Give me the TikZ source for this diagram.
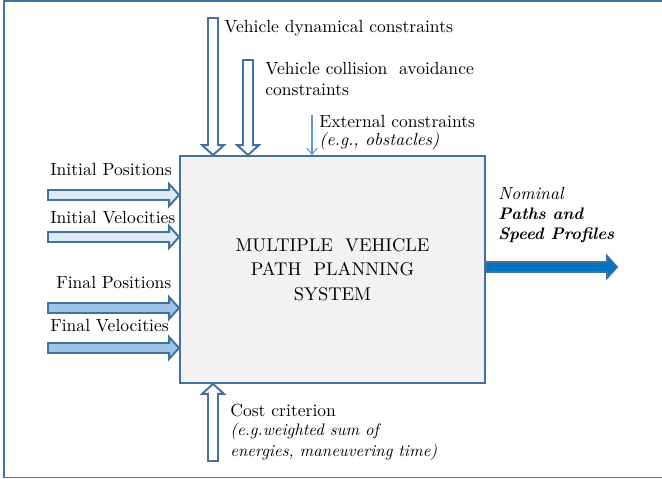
\documentclass[tikz,border=0pt]{standalone}
\usetikzlibrary{calc,arrows.meta}

\definecolor{frameblue}{HTML}{41719C}
\definecolor{paleblue}{HTML}{DEEBF7}
\definecolor{midblue}{HTML}{9DC3E6}
\definecolor{outblue}{HTML}{0075C4}
\definecolor{extblue}{HTML}{5B9BD5}
\definecolor{boxgray}{HTML}{F2F2F2}

\tikzset{
  % block arrow along a straight to-path: shaft 0.1cm, head 0.22cm wide, 0.2cm long
  blockarrow/.style={draw=frameblue, line width=1.1pt, line join=miter,
    to path={($(\tikztostart)!0.1cm!90:(\tikztotarget)$)
      -- ($(\tikztotarget)!0.2cm!(\tikztostart)!0.1cm!90:(\tikztotarget)$)
      -- ($(\tikztotarget)!0.2cm!(\tikztostart)!0.22cm!90:(\tikztotarget)$)
      -- (\tikztotarget)
      -- ($(\tikztotarget)!0.2cm!(\tikztostart)!0.22cm!-90:(\tikztotarget)$)
      -- ($(\tikztotarget)!0.2cm!(\tikztostart)!0.1cm!-90:(\tikztotarget)$)
      -- ($(\tikztostart)!0.1cm!-90:(\tikztotarget)$) -- cycle}},
  lbl/.style={anchor=base west, inner sep=0pt},
  sysbox/.style={draw=frameblue, fill=boxgray, line width=1.1pt,
    minimum width=6.1cm, minimum height=4.54cm, align=center,
    font=\fontsize{10.5}{13.9}\selectfont}
}

\begin{document}
\begin{tikzpicture}[x=0.02cm, y=-0.02cm]
	\useasboundingbox (0,0) rectangle (662,479);
	\fill [white] (0,0) rectangle (662,479);
	% outer frame, open on the right
	\draw [frameblue, line width=1.1pt] (662,1.2) -- (4,1.2) -- (4,477.5) -- (662,477.5);

	\node [sysbox] (sys) at (332.5,269.5) {MULTIPLE\ \ VEHICLE\\PATH\ \ PLANNING\\SYSTEM};

	% loose ends of the arrows
	\coordinate (dynS) at (213,18);
	\coordinate (colS) at (248,60);
	\coordinate (extS) at (312,115);
	\coordinate (costS) at (213,461);
	\coordinate (ipS) at (48,195);
	\coordinate (ivS) at (48,237);
	\coordinate (fpS) at (48,308);
	\coordinate (fvS) at (48,348);
	\coordinate (outE) at (617,267);

	\draw [blockarrow, fill=white] (dynS) to (sys.north -| dynS);
	\draw [blockarrow, fill=white] (colS) to (sys.north -| colS);
	\draw [extblue, line width=0.6pt, -{Straight Barb[length=3.5pt,width=6pt]}] (extS) -- (sys.north -| extS);
	\draw [blockarrow, fill=white] (costS) to (sys.south -| costS);
	\draw [blockarrow, fill=paleblue] (ipS) to (sys.west |- ipS);
	\draw [blockarrow, fill=paleblue] (ivS) to (sys.west |- ivS);
	\draw [blockarrow, fill=midblue] (fpS) to (sys.west |- fpS);
	\draw [blockarrow, fill=midblue] (fvS) to (sys.west |- fvS);
	\draw [blockarrow, fill=outblue] (sys.east |- outE) to (outE);

	% labels
	\node [lbl] (dynL) at (224,33) {Vehicle dynamical constraints};
	\node [lbl] (colL) at (265,75) {Vehicle collision\ \ avoidance};
	\node [lbl] (colLb) at (265,96) {constraints};
	\node [lbl] (extL) at (319,128) {External constraints};
	\node [lbl] (extLb) at (319,146) {\itshape (e.g., obstacles)};
	\node [lbl] (ipL) at (50,176) {Initial Positions};
	\node [lbl] (ivL) at (50,224) {Initial Velocities};
	\node [lbl] (fpL) at (56,289) {Final Positions};
	\node [lbl] (fvL) at (50,331) {Final Velocities};
	\node [lbl] (costL) at (230,416) {Cost criterion};
	\node [lbl, font=\fontsize{9.5}{11}\selectfont] (costLb) at (230,435) {\itshape (e.g.weighted sum of};
	\node [lbl, font=\fontsize{9.5}{11}\selectfont] (costLc) at (230,456) {\itshape energies, maneuvering time)};
	\node [lbl] (outL) at (498,200) {\itshape Nominal};
	\node [lbl, font=\fontsize{9.5}{11}\selectfont] (outLb) at (498,220) {\bfseries\itshape Paths and};
	\node [lbl, font=\fontsize{9.5}{11}\selectfont] (outLc) at (498,240) {\bfseries\itshape Speed Profiles};
\end{tikzpicture}
\end{document}
